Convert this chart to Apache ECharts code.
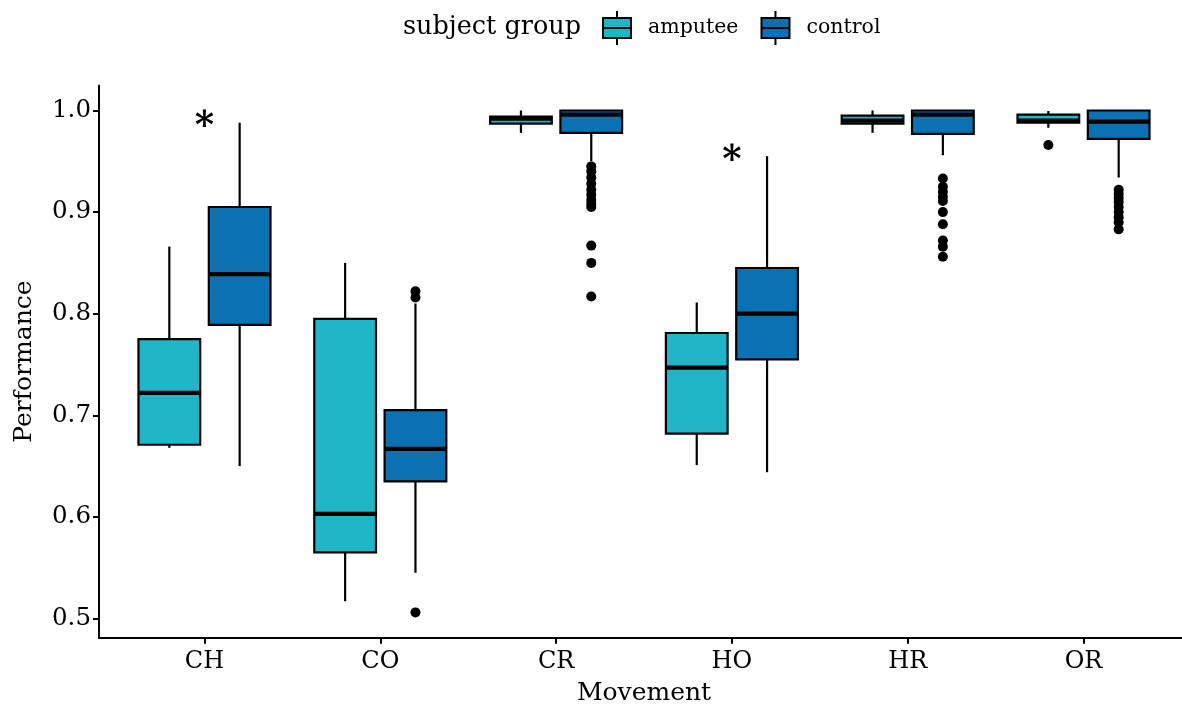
<!DOCTYPE html>
<html>
<head>
<meta charset="utf-8">
<script src="https://cdn.jsdelivr.net/npm/echarts@6/dist/echarts.min.js"></script>
<style>
html,body{margin:0;padding:0;background:#fff;}
#chart{width:1182px;height:704px;}
</style>
</head>
<body>
<div id="chart"></div>
<script>
// ---- data ----
const categories = ['CH', 'CO', 'CR', 'HO', 'HR', 'OR'];
const yTicks = [0.5, 0.6, 0.7, 0.8, 0.9, 1.0];

const amputeeMin    = [0.668, 0.517, 0.978, 0.651, 0.978, 0.983];
const amputeeQ1     = [0.671, 0.565, 0.987, 0.682, 0.987, 0.988];
const amputeeMedian = [0.722, 0.603, 0.992, 0.747, 0.990, 0.990];
const amputeeQ3     = [0.775, 0.795, 0.994, 0.781, 0.995, 0.996];
const amputeeMax    = [0.866, 0.850, 1.000, 0.811, 1.000, 0.9995];

const controlMin    = [0.650, 0.545, 0.950, 0.644, 0.956, 0.934];
const controlQ1     = [0.789, 0.635, 0.978, 0.755, 0.977, 0.972];
const controlMedian = [0.839, 0.667, 0.996, 0.800, 0.996, 0.989];
const controlQ3     = [0.905, 0.705, 1.000, 0.845, 1.000, 1.000];
const controlMax    = [0.988, 0.810, 1.000, 0.955, 1.000, 1.000];

const amputeeOutliers = [['OR', 0.966]];
const controlOutliers = [
  ['CO', 0.822], ['CO', 0.816], ['CO', 0.506],
  ['CR', 0.945], ['CR', 0.940], ['CR', 0.934], ['CR', 0.928], ['CR', 0.922], ['CR', 0.917],
  ['CR', 0.912], ['CR', 0.908], ['CR', 0.905], ['CR', 0.867], ['CR', 0.850], ['CR', 0.817],
  ['HR', 0.933], ['HR', 0.925], ['HR', 0.920], ['HR', 0.915], ['HR', 0.911], ['HR', 0.900],
  ['HR', 0.888], ['HR', 0.872], ['HR', 0.866], ['HR', 0.856],
  ['OR', 0.922], ['OR', 0.918], ['OR', 0.914], ['OR', 0.910], ['OR', 0.905], ['OR', 0.900],
  ['OR', 0.895], ['OR', 0.890], ['OR', 0.883]
];

const starCategories = ['CH', 'HO'];
const starValues = [0.989, 0.956];

// ---- styling ----
const FONT = 'DejaVu Serif';
const AMPUTEE_COLOR = '#21B6C7';
const CONTROL_COLOR = '#0A72B2';
const DODGE = 0.2;      // offset of each group from category center (axis units)
const BOX_W = 0.351;    // box width (axis units)

function boxData(mins, q1s, meds, q3s, maxs) {
  return categories.map((c, i) => [i + 1, mins[i], q1s[i], meds[i], q3s[i], maxs[i]]);
}
function outlierData(list) {
  return list.map(d => [categories.indexOf(d[0]) + 1, d[1]]);
}

function boxRenderer(offset, color) {
  return function (params, api) {
    const x = api.value(0) + offset;
    const pMin = api.coord([x, api.value(1)]);
    const pQ1 = api.coord([x, api.value(2)]);
    const pMed = api.coord([x, api.value(3)]);
    const pQ3 = api.coord([x, api.value(4)]);
    const pMax = api.coord([x, api.value(5)]);
    const half = api.size([BOX_W, 0])[0] / 2;
    const cx = pMed[0];
    return {
      type: 'group',
      children: [
        { type: 'line', shape: { x1: cx, y1: pMax[1], x2: cx, y2: pQ3[1] },
          style: { stroke: '#000', lineWidth: 2.2 } },
        { type: 'line', shape: { x1: cx, y1: pQ1[1], x2: cx, y2: pMin[1] },
          style: { stroke: '#000', lineWidth: 2.2 } },
        { type: 'rect', shape: { x: cx - half, y: pQ3[1], width: half * 2, height: pQ1[1] - pQ3[1] },
          style: { fill: color, stroke: '#000', lineWidth: 2.2 } },
        { type: 'line', shape: { x1: cx - half, y1: pMed[1], x2: cx + half, y2: pMed[1] },
          style: { stroke: '#000', lineWidth: 4.2 } }
      ]
    };
  };
}

function outlierRenderer(offset) {
  return function (params, api) {
    const p = api.coord([api.value(0) + offset, api.value(1)]);
    return { type: 'circle', shape: { cx: p[0], cy: p[1], r: 5 }, style: { fill: '#000' } };
  };
}

const chart = echarts.init(document.getElementById('chart'), null, { renderer: 'canvas' });

const legendIcon = 'path://M0,7 L28,7 L28,27 L0,27 Z M14,0 L14,7 M14,27 L14,34 M0,17 L28,17';

chart.setOption({
  backgroundColor: '#fff',
  animation: false,
  textStyle: { fontFamily: FONT },
  title: {
    text: 'subject group',
    left: 398, top: 9,
    textStyle: { fontFamily: FONT, fontSize: 25.5, fontWeight: 'normal', color: '#000' }
  },
  legend: {
    data: ['amputee', 'control'],
    left: 597, top: 5,
    icon: legendIcon,
    itemWidth: 28, itemHeight: 34,
    itemGap: 22,
    itemStyle: { borderColor: '#000', borderWidth: 2 },
    textStyle: { fontFamily: FONT, fontSize: 20.5, color: '#000', padding: [0, 0, 0, 12] }
  },
  grid: { left: 99, top: 85.4, width: 1090, height: 552.3, containLabel: false, outerBoundsMode: 'none' },
  xAxis: {
    type: 'value',
    min: 0.4, max: 6.6,
    name: 'Movement',
    nameLocation: 'middle',
    nameGap: 43,
    nameTextStyle: { fontFamily: FONT, fontSize: 25, color: '#000' },
    axisLine: { show: true, onZero: false, lineStyle: { color: '#000', width: 2 } },
    axisTick: { show: true, length: 6, customValues: [1, 2, 3, 4, 5, 6], lineStyle: { color: '#000', width: 2 } },
    axisLabel: {
      customValues: [1, 2, 3, 4, 5, 6],
      formatter: v => categories[Math.round(v) - 1],
      margin: 12,
      fontFamily: FONT, fontSize: 24, color: '#000'
    },
    splitLine: { show: false }
  },
  yAxis: {
    type: 'value',
    min: 0.4811, max: 1.0247,
    name: 'Performance',
    nameLocation: 'middle',
    nameGap: 62,
    nameTextStyle: { fontFamily: FONT, fontSize: 25, color: '#000' },
    axisLine: { show: true, onZero: false, lineStyle: { color: '#000', width: 2 } },
    axisTick: { show: true, length: 6, customValues: yTicks, lineStyle: { color: '#000', width: 2 } },
    axisLabel: {
      customValues: yTicks,
      formatter: v => v.toFixed(1),
      margin: 8,
      fontFamily: FONT, fontSize: 24.5, color: '#000'
    },
    splitLine: { show: false }
  },
  series: [
    {
      name: 'amputee', type: 'custom',
      itemStyle: { color: AMPUTEE_COLOR },
      renderItem: boxRenderer(-DODGE, AMPUTEE_COLOR),
      encode: { x: 0, y: [1, 2, 3, 4, 5] },
      data: boxData(amputeeMin, amputeeQ1, amputeeMedian, amputeeQ3, amputeeMax)
    },
    {
      name: 'control', type: 'custom',
      itemStyle: { color: CONTROL_COLOR },
      renderItem: boxRenderer(DODGE, CONTROL_COLOR),
      encode: { x: 0, y: [1, 2, 3, 4, 5] },
      data: boxData(controlMin, controlQ1, controlMedian, controlQ3, controlMax)
    },
    {
      name: 'amputee outliers', type: 'custom',
      renderItem: outlierRenderer(-DODGE),
      encode: { x: 0, y: 1 },
      data: outlierData(amputeeOutliers)
    },
    {
      name: 'control outliers', type: 'custom',
      renderItem: outlierRenderer(DODGE),
      encode: { x: 0, y: 1 },
      data: outlierData(controlOutliers)
    },
    {
      name: 'significance', type: 'custom',
      renderItem: function (params, api) {
        const p = api.coord([api.value(0), api.value(1)]);
        return {
          type: 'text',
          x: p[0], y: p[1] + 6,
          style: {
            text: '*', fontFamily: FONT, fontSize: 37, fontWeight: 'bold',
            fill: '#000', align: 'center', verticalAlign: 'middle'
          }
        };
      },
      encode: { x: 0, y: 1 },
      data: starCategories.map((c, i) => [categories.indexOf(c) + 1, starValues[i]])
    }
  ]
});
</script>
</body>
</html>
